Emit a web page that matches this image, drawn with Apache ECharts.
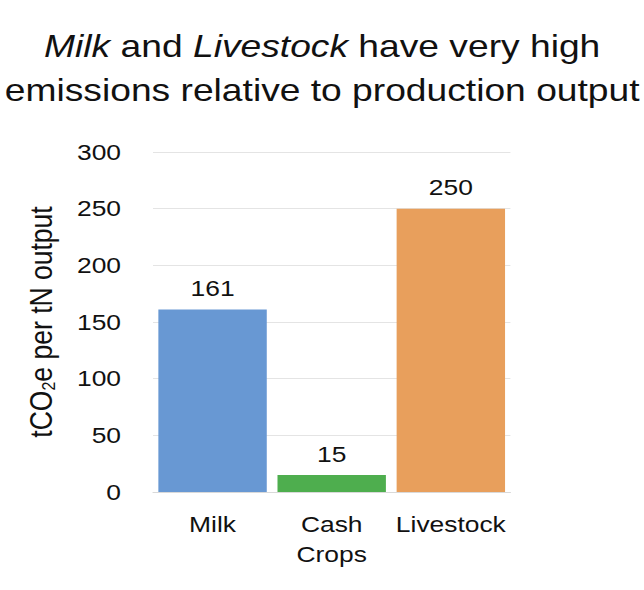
<!DOCTYPE html>
<html>
<head>
<meta charset="utf-8">
<script src="https://cdn.jsdelivr.net/npm/echarts@6/dist/echarts.min.js"></script>
<style>
  html, body { margin: 0; padding: 0; background: #fff; overflow: hidden; }
  #chart { height: 590px; transform-origin: 0 0; }
</style>
</head>
<body>
<div id="chart"></div>
<script>
// Emissions intensity by production type
const categories = ['Milk', 'Cash\nCrops', 'Livestock'];
const emissions = [161, 15, 250];
const barColors = ['#6898d3', '#4eae4e', '#e89f5c'];
const yTicks = [0, 50, 100, 150, 200, 250, 300];

const FONT = '"Liberation Sans", Arial, sans-serif';

// The slide typography is horizontally widened; draw at a narrower width
// and stretch the whole chart along x.
const STRETCH = 1.2;
const PAGE_W = 644;
const el = document.getElementById('chart');
el.style.width = (PAGE_W / STRETCH) + 'px';
el.style.transform = 'scaleX(' + STRETCH + ')';
const sx = v => v / STRETCH;

const chart = echarts.init(el, null, { renderer: 'svg' });
chart.setOption({
  backgroundColor: '#ffffff',
  animation: false,
  title: {
    text: '{i|Milk}{n| and }{i|Livestock}{n| have very high}\n{n|emissions relative to production output}',
    left: 'center',
    top: 19,
    textStyle: {
      fontWeight: 'normal',
      rich: {
        i: { fontFamily: FONT, fontSize: 31, fontStyle: 'italic', fontWeight: 'normal', color: '#111', lineHeight: 44 },
        n: { fontFamily: FONT, fontSize: 31, fontWeight: 'normal', color: '#111', lineHeight: 44 }
      }
    }
  },
  grid: { left: sx(153), right: sx(PAGE_W - 510), top: 152, bottom: 98 },
  xAxis: {
    type: 'category',
    data: categories,
    axisLine: { lineStyle: { color: '#d9d9d9', width: 1 } },
    axisTick: { show: false },
    axisLabel: {
      color: '#111', fontFamily: FONT, fontSize: 22, lineHeight: 30,
      margin: 17, interval: 0
    }
  },
  yAxis: {
    type: 'value',
    min: yTicks[0],
    max: yTicks[yTicks.length - 1],
    interval: 50,
    name: '{t|tCO}{s|2}{t|e per tN output}',
    nameLocation: 'middle',
    nameGap: 79,
    nameRotate: 90,
    nameTextStyle: {
      rich: {
        t: { fontFamily: FONT, fontSize: 26.5, color: '#111' },
        s: { fontFamily: FONT, fontSize: 16, color: '#111', verticalAlign: 'bottom', padding: [13, 0, 0, 0] }
      }
    },
    axisLine: { show: false },
    axisTick: { show: false },
    splitLine: { lineStyle: { color: '#e4e4e4', width: 1 } },
    axisLabel: { color: '#111', fontFamily: FONT, fontSize: 22, margin: sx(32) }
  },
  series: [{
    type: 'bar',
    data: emissions.map((v, i) => ({ value: v, itemStyle: { color: barColors[i] } })),
    barCategoryGap: '9%',
    label: {
      show: true, position: 'top', distance: 10,
      color: '#111', fontFamily: FONT, fontSize: 22
    }
  }]
});
</script>
</body>
</html>
